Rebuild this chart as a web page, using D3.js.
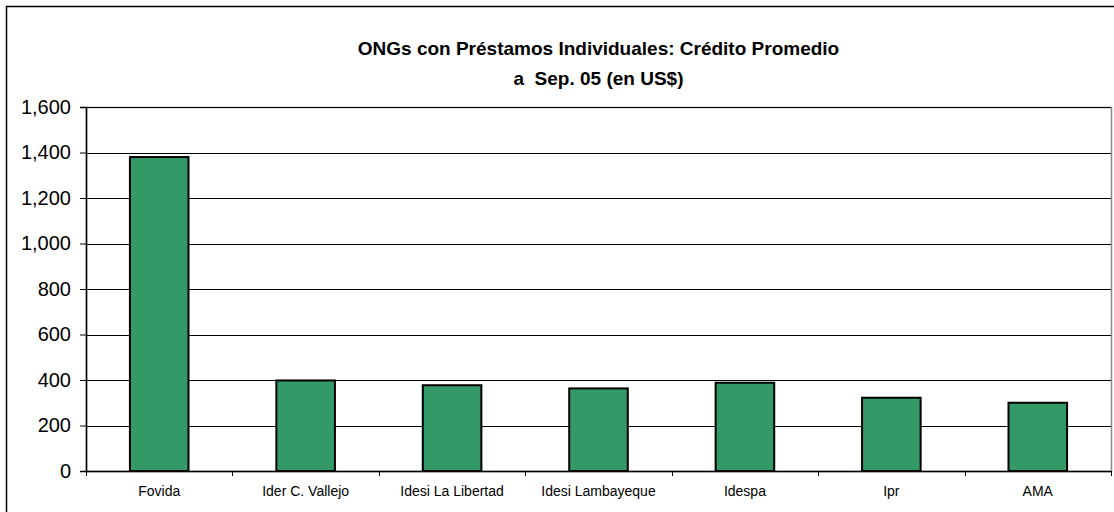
<!DOCTYPE html>
<html>
<head>
<meta charset="utf-8">
<script src="https://cdn.jsdelivr.net/npm/d3@7"></script>
<style>
  body { margin: 0; background: #fff; }
  svg { font-family: "Liberation Sans", Arial, sans-serif; }
</style>
</head>
<body>
<svg id="chart" width="1114" height="512"></svg>
<script>
var categories = ['Fovida', 'Ider C. Vallejo', 'Idesi La Libertad', 'Idesi Lambayeque', 'Idespa', 'Ipr', 'AMA'];
var values = [1380, 398, 377, 363, 388, 322, 300];
var yTicks = [0, 200, 400, 600, 800, 1000, 1200, 1400, 1600];
var titleLines = ['ONGs con Préstamos Individuales: Crédito Promedio', 'a  Sep. 05 (en US$)'];

var margin = {top: 107, right: 3, bottom: 41, left: 86},
  width = 1114 - margin.left - margin.right,
  height = 512 - margin.top - margin.bottom;

var svg = d3.select('#chart');

// marco exterior
svg.append('rect')
  .attr('x', 6.5).attr('y', 6.5)
  .attr('width', 1130).attr('height', 530)
  .attr('fill', 'none').attr('stroke', '#000').attr('stroke-width', 1.5);

svg.selectAll('.title')
  .data(titleLines)
  .enter().append('text')
  .attr('class', 'title')
  .attr('x', margin.left + width / 2)
  .attr('y', function(d, i) { return 55 + i * 30; })
  .attr('text-anchor', 'middle')
  .attr('font-size', '19px')
  .attr('font-weight', 'bold')
  .style('white-space', 'pre')
  .text(function(d) { return d; });

var x = d3.scaleBand()
  .domain(categories)
  .range([0, width])
  .paddingInner(0.6)
  .paddingOuter(0.3);

var y = d3.scaleLinear()
  .domain([0, 1600])
  .range([height, 0]);

var container = svg.append('g')
  .attr('transform', 'translate(' + margin.left + ',' + margin.top + ')');

// borde del area de trazado
container.append('rect')
  .attr('x', 0.5).attr('y', 0.5)
  .attr('width', width).attr('height', height)
  .attr('fill', 'none').attr('stroke', '#888').attr('stroke-width', 1.5);

// lineas de cuadricula
container.selectAll('.grid')
  .data(yTicks.slice(1))
  .enter().append('line')
  .attr('class', 'grid')
  .attr('x1', 0).attr('x2', width)
  .attr('y1', function(d) { return Math.round(y(d)) + 0.5; })
  .attr('y2', function(d) { return Math.round(y(d)) + 0.5; })
  .attr('stroke', '#000').attr('stroke-width', 1);

var yAxis = d3.axisLeft(y)
  .tickValues(yTicks)
  .tickSize(6)
  .tickPadding(9)
  .tickFormat(d3.format(','));

var gy = container.append('g')
  .attr('class', 'y axis')
  .call(yAxis);
gy.select('.domain').attr('stroke', '#000').attr('stroke-width', 1.5);
gy.selectAll('.tick line').attr('stroke', '#000');
gy.selectAll('.tick text')
  .attr('font-size', '20px')
  .attr('fill', '#000')
  .attr('font-family', '"Liberation Sans", Arial, sans-serif');

// ticks del eje x en los limites de categoria
var step = x.step();
var xAxis = container.append('g')
  .attr('class', 'x axis')
  .attr('transform', 'translate(0,' + height + ')');
xAxis.append('line')
  .attr('x1', 0).attr('x2', width)
  .attr('y1', 0.5).attr('y2', 0.5)
  .attr('stroke', '#000').attr('stroke-width', 1.5);
xAxis.selectAll('.xtick')
  .data(d3.range(categories.length + 1))
  .enter().append('line')
  .attr('class', 'xtick')
  .attr('x1', function(i) { return Math.round(i * step) + 0.5; })
  .attr('x2', function(i) { return Math.round(i * step) + 0.5; })
  .attr('y1', 0).attr('y2', 5)
  .attr('stroke', '#000');
xAxis.selectAll('.xlabel')
  .data(categories)
  .enter().append('text')
  .attr('class', 'xlabel')
  .attr('x', function(d) { return x(d) + x.bandwidth() / 2; })
  .attr('y', 25)
  .attr('text-anchor', 'middle')
  .attr('font-size', '14px')
  .attr('fill', '#000')
  .text(function(d) { return d; });

container.selectAll('.bar')
  .data(values)
  .enter().append('rect')
  .attr('class', 'bar')
  .attr('x', function(d, i) { return x(categories[i]); })
  .attr('y', function(d) { return y(d); })
  .attr('width', x.bandwidth())
  .attr('height', function(d) { return height - y(d); })
  .attr('fill', '#339966')
  .attr('stroke', '#000')
  .attr('stroke-width', 2);
</script>
</body>
</html>
